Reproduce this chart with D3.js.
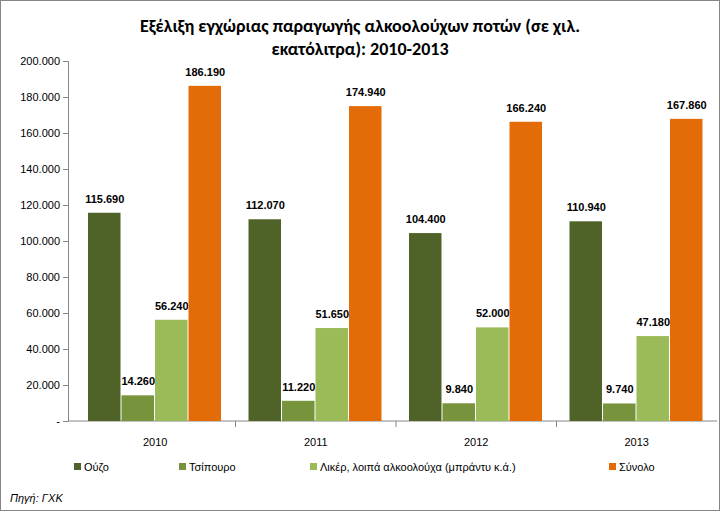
<!DOCTYPE html>
<html><head><meta charset="utf-8">
<script src="https://cdn.jsdelivr.net/npm/d3@7"></script>
<style>body{margin:0;background:#fff;font-family:Calibri,Carlito,"Open Sans",sans-serif}</style>
</head><body><svg id="c" width="721" height="512"></svg>
<script>
var years = ["2010", "2011", "2012", "2013"];
var seriesNames = ["Ούζο", "Τσίπουρο", "Λικέρ, λοιπά αλκοολούχα (μπράντυ κ.ά.)", "Σύνολο"];
var ouzo = [115690, 112070, 104400, 110940];
var tsipouro = [14260, 11220, 9840, 9740];
var liker = [56240, 51650, 52000, 47180];
var synolo = [186190, 174940, 166240, 167860];
var colors = ["#4f6228", "#77933c", "#9bbb59", "#e36c09"];
var ticks = [0, 20000, 40000, 60000, 80000, 100000, 120000, 140000, 160000, 180000, 200000];

var series = [ouzo, tsipouro, liker, synolo];
var svg = d3.select("#c");
svg.append("rect").attr("x", 0.5).attr("y", 0.5).attr("width", 719).attr("height", 510)
  .attr("fill", "#fff").attr("stroke", "#868686");

svg.append("text").attr("x", 360).attr("y", 32).attr("text-anchor", "middle")
  .attr("font-size", 18).attr("font-weight", "bold").text("Εξέλιξη εγχώριας παραγωγής αλκοολούχων ποτών (σε χιλ.");
svg.append("text").attr("x", 360).attr("y", 55).attr("text-anchor", "middle")
  .attr("font-size", 18).attr("font-weight", "bold").text("εκατόλιτρα): 2010-2013");

var x0 = d3.scaleBand().domain(years).range([75, 717]);
var x1 = d3.scaleBand().domain(d3.range(4)).range([0, 134]);
var y = d3.scaleLinear().domain([0, 200000]).range([421, 61]);
var fmt = function(v) { return v === 0 ? "-" : d3.format(",")(v).replace(/,/g, "."); };

var ya = svg.append("g").attr("transform", "translate(68,0)")
  .call(d3.axisLeft(y).tickValues(ticks).tickSize(5).tickFormat(fmt));
ya.selectAll("text").attr("font-size", 11).attr("font-family", "Liberation Sans,sans-serif").attr("fill", "#000");
ya.selectAll("line,path").attr("stroke", "#868686");

svg.append("line").attr("x1", 68).attr("x2", 717).attr("y1", 421).attr("y2", 421).attr("stroke", "#868686");
years.forEach(function(yr, i) {
  var xx = x0(yr) + x0.bandwidth();
  if (i < 3) svg.append("line").attr("x1", xx).attr("x2", xx).attr("y1", 421).attr("y2", 427).attr("stroke", "#868686");
  svg.append("text").attr("x", x0(yr) + x0.bandwidth() / 2).attr("y", 446).attr("text-anchor", "middle")
    .attr("font-size", 11).attr("font-family", "Liberation Sans,sans-serif").text(yr);
});

var off = 13;
series.forEach(function(s, si) {
  var g = svg.append("g");
  g.selectAll("rect").data(s).enter().append("rect")
    .attr("x", function(d, i) { return x0(years[i]) + off + x1(si); })
    .attr("width", x1.bandwidth() - 1)
    .attr("y", function(d) { return y(d); })
    .attr("height", function(d) { return y(0) - y(d); })
    .attr("fill", colors[si]);
  g.selectAll("text").data(s).enter().append("text")
    .attr("x", function(d, i) { return x0(years[i]) + off + x1(si) + x1.bandwidth() / 2; })
    .attr("y", function(d) { return y(d) - 10; })
    .attr("text-anchor", "middle").attr("font-size", 11).attr("font-weight", "bold")
    .attr("font-family", "Liberation Sans,sans-serif").text(fmt);
});

var legX = [74, 179, 310, 609];
seriesNames.forEach(function(n, i) {
  svg.append("rect").attr("x", legX[i]).attr("y", 463).attr("width", 7).attr("height", 7).attr("fill", colors[i]);
  svg.append("text").attr("x", legX[i] + 10).attr("y", 471).attr("font-size", 11)
    .attr("font-family", "Liberation Sans,sans-serif").text(n);
});
svg.append("text").attr("x", 10).attr("y", 502).attr("font-size", 11).attr("font-style", "italic")
  .attr("font-family", "Liberation Sans,sans-serif").text("Πηγή: ΓΧΚ");
</script></body></html>
